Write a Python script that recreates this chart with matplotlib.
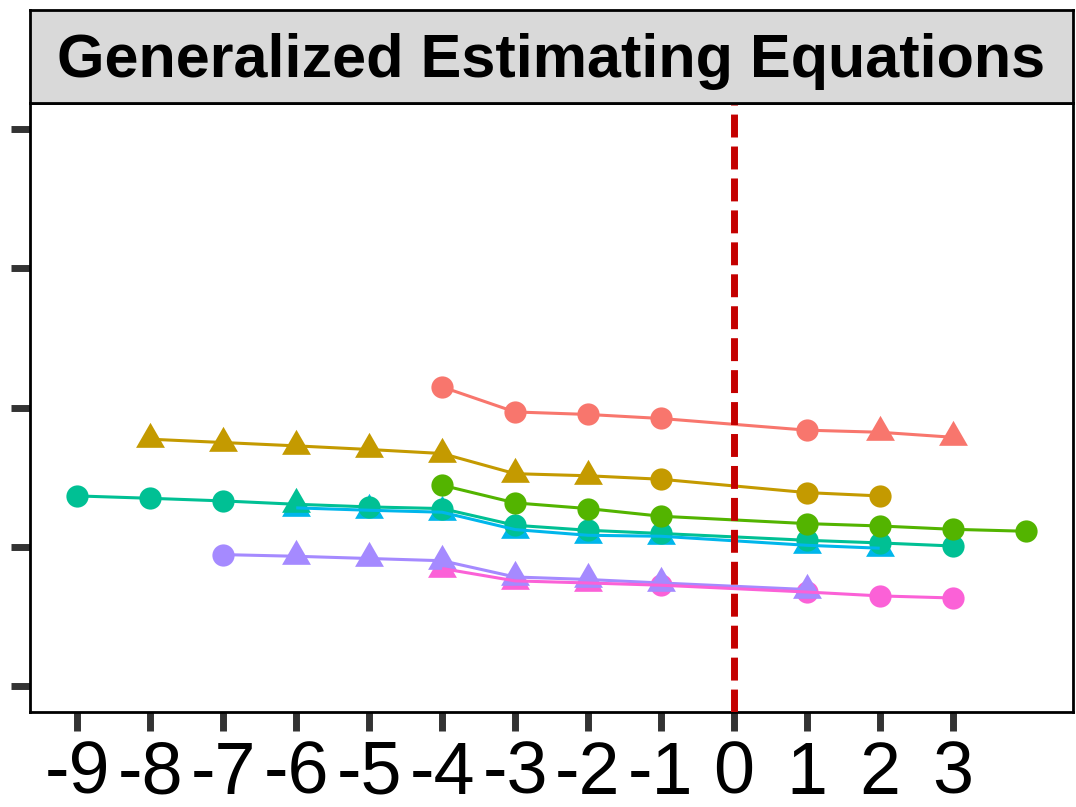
import matplotlib
matplotlib.use("Agg")
import matplotlib.pyplot as plt
import numpy as np

plt.rcParams.update({
    "font.family": ["Liberation Sans", "DejaVu Sans"],
})

# event time (0 omitted) and estimates per group
COLORS = ["#F8766D", "#C49A00", "#53B400", "#00C094", "#00B6EB", "#A58AFF", "#FB61D7"]

x_salmon = [-4, -3, -2, -1, 1, 2, 3]
y_salmon = [2.148, 1.968, 1.950, 1.921, 1.837, 1.822, 1.786]
s_salmon = ["o", "o", "o", "o", "o", "^", "^"]

x_gold = [-8, -7, -6, -5, -4, -3, -2, -1, 1, 2]
y_gold = [1.772, 1.748, 1.724, 1.698, 1.669, 1.524, 1.509, 1.484, 1.388, 1.364]
s_gold = ["^", "^", "^", "^", "^", "^", "^", "o", "o", "o"]

x_green = [-4, -3, -2, -1, 1, 2, 3, 4]
y_green = [1.441, 1.314, 1.273, 1.218, 1.165, 1.148, 1.124, 1.110]
s_green = ["o"] * 8

x_teal = [-9, -8, -7, -6, -5, -4, -3, -2, -1, 1, 2, 3]
y_teal = [1.364, 1.347, 1.328, 1.304, 1.285, 1.273, 1.153, 1.117, 1.094, 1.045, 1.026, 1.004]
s_teal = ["o", "o", "o", "^", "o", "o", "o", "o", "o", "o", "o", "o"]

x_blue = [-6, -5, -4, -3, -2, -1, 1, 2]
y_blue = [1.278, 1.261, 1.247, 1.122, 1.081, 1.074, 1.009, 0.988]
s_blue = ["^"] * 8

x_purple = [-7, -6, -5, -4, -3, -2, -1, 1]
y_purple = [0.942, 0.930, 0.914, 0.898, 0.781, 0.763, 0.738, 0.691]
s_purple = ["o", "^", "^", "^", "^", "^", "^", "^"]

x_pink = [-4, -3, -2, -1, 1, 2, 3]
y_pink = [0.842, 0.753, 0.738, 0.722, 0.673, 0.645, 0.630]
s_pink = ["^", "^", "^", "o", "o", "o", "o"]

SERIES = [
    (x_salmon, y_salmon, s_salmon),
    (x_gold, y_gold, s_gold),
    (x_green, y_green, s_green),
    (x_teal, y_teal, s_teal),
    (x_blue, y_blue, s_blue),
    (x_purple, y_purple, s_purple),
    (x_pink, y_pink, s_pink),
]

X_TICKS = list(range(-9, 4))
Y_TICKS = [0, 1, 2, 3, 4]
TITLE = "Generalized Estimating Equations"

# equilateral triangle centred on its centroid (ggplot shape 17)
TRI = [(-1, -0.577), (1, -0.577), (0, 1.155), (-1, -0.577)]

W, H = 1076, 807
fig = plt.figure(figsize=(W / 100, H / 100), dpi=100)
left, right = 30 / W, 1073 / W
ax = fig.add_axes([left, (H - 712) / H, right - left, (712 - 103) / H])
strip = fig.add_axes([left, (H - 103) / H, right - left, 93 / H])

n = len(SERIES)
for i, ((xs, ys, ss), c) in enumerate(zip(SERIES, COLORS)):
    for xv, yv, sv in zip(xs, ys, ss):
        if sv == "o":
            ax.plot(xv, yv, marker="o", ms=16, color=c, mew=0,
                    linestyle="none", zorder=2 + (n - i) * 0.01)
        else:
            ax.plot(xv, yv, marker=TRI, ms=24, color=c, mew=0,
                    linestyle="none", zorder=2 + (n - i) * 0.01)
for i, ((xs, ys, ss), c) in enumerate(zip(SERIES, COLORS)):
    ax.plot(xs, ys, color=c, lw=2.2, zorder=3 + i * 0.01,
            solid_capstyle="butt")

ax.axvline(0, color="#C40000", lw=5, linestyle=(0, (3.3, 1.3)), zorder=4)

ax.set_xlim(-9.65, 4.65)
ax.set_ylim(-0.19, 4.19)
ax.set_xticks(X_TICKS)
ax.set_xticklabels([str(t) for t in X_TICKS], fontsize=53)
ax.set_yticks(Y_TICKS)
ax.set_yticklabels([])
ax.tick_params(axis="both", length=14, width=5, color="#333333", pad=6)
for sp in ax.spines.values():
    sp.set_linewidth(2)
    sp.set_color("black")

strip.set_facecolor("#D9D9D9")
strip.set_xticks([])
strip.set_yticks([])
for sp in strip.spines.values():
    sp.set_linewidth(2)
    sp.set_color("black")
strip.text(0.5, 0.45, TITLE, ha="center", va="center", fontsize=44,
           fontweight="bold", transform=strip.transAxes)

fig.savefig("out.png", dpi=100)
